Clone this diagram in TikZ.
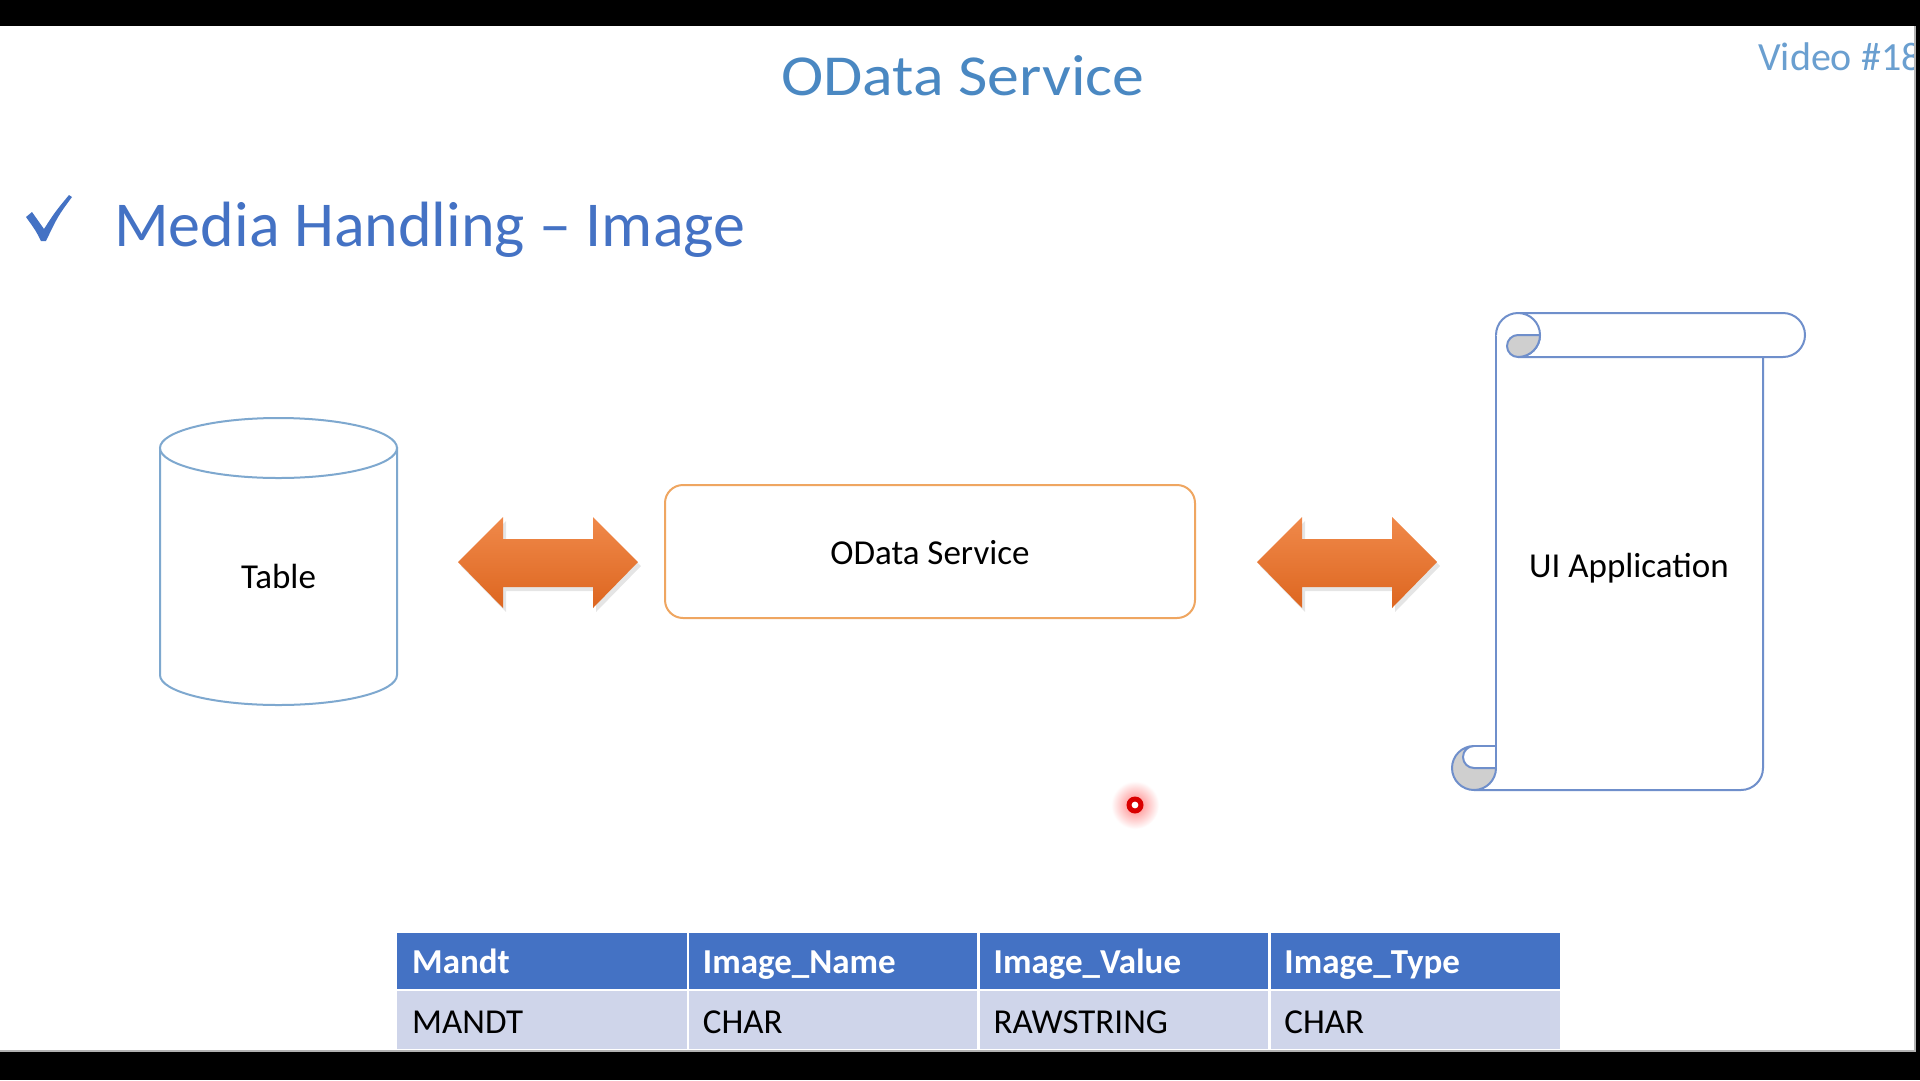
\documentclass[tikz,border=0pt]{standalone}
\usepackage{fontspec}
\setmainfont{Carlito}
\definecolor{hdr}{HTML}{4472C4}
\definecolor{rowc}{HTML}{CFD5EA}
\definecolor{cylblue}{HTML}{7EA8CF}
\definecolor{scrollblue}{HTML}{6F8FCB}
\definecolor{boxorange}{HTML}{EFA661}
\definecolor{arrtop}{HTML}{F0894A}
\definecolor{arrbot}{HTML}{DD6620}
\definecolor{titleblue}{HTML}{4A88C2}
\definecolor{videoblue}{HTML}{6A9FD0}
\definecolor{curlgray}{HTML}{CFCFCF}
\begin{document}
\begin{tikzpicture}[x=1pt,y=-1pt,
  lbl/.style={font=\fontsize{35}{40}\selectfont, text=black, inner sep=0pt},
  hdrtxt/.style={font=\fontsize{35}{40}\selectfont\bfseries, text=white, inner sep=0pt, anchor=base west},
  rowtxt/.style={font=\fontsize{35}{40}\selectfont, text=black, inner sep=0pt, anchor=base west},
  cyl/.style={draw=cylblue, line width=2pt, fill=white},
  scrl/.style={draw=scrollblue, line width=2pt, line join=round},
  odbox/.style={draw=boxorange, line width=2pt, rounded corners=18pt, fill=white, minimum width=530pt, minimum height=133pt, inner sep=0pt},
  blockarrow/.style={top color=arrtop, bottom color=arrbot},
]
\useasboundingbox (0,0) rectangle (1920,1080);
\fill[white] (0,0) rectangle (1920,1080);

% title and video label
\node[anchor=base, inner sep=0pt, text=titleblue, font=\fontsize{58}{64}\selectfont] (title) at (963,95) {\scalebox{1.1}[1]{OData Service}};
\node[anchor=base west, inner sep=0pt, text=videoblue, font=\fontsize{40}{46}\selectfont] (video) at (1758,70) {Video \#18};

% heading with check mark
\fill[hdr] (26,217) .. controls (29,214) .. (32,212) -- (44,229) .. controls (55,212) .. (69,195) -- (72,197) .. controls (58,216) .. (46,241) -- (41,241) .. controls (36,231) .. cycle;
\node[anchor=base west, inner sep=0pt, text=hdr, font=\fontsize{64}{70}\selectfont] (heading) at (114,246) {Media Handling – Image};

% cylinder
\path[cyl] (160,448) -- (160,675) arc[start angle=180, end angle=0, x radius=118.5, y radius=30] -- (397,448) -- cycle;
\draw[cyl] (278.5,448) ellipse [x radius=118.5, y radius=30];
\node[lbl, anchor=base] (tbl) at (278.5,588) {Table};

% OData service box
\node[odbox] (ods) at (930,551.5) {};
\node[lbl, anchor=base] (odstxt) at (930,564) {OData Service};

% double arrows
\foreach \dx/\nm in {0/arrL, 799/arrR}{
  \begin{scope}[xshift=\dx]
    \fill[black, opacity=0.10] (461,566) -- (506,521) -- (506,543) -- (596,543) -- (596,521) -- (641,566) -- (596,612) -- (596,591) -- (506,591) -- (506,612) -- cycle;
    \shade[blockarrow] (458,562) -- (503,517) -- (503,539) -- (593,539) -- (593,517) -- (638,562) -- (593,608) -- (593,587) -- (503,587) -- (503,608) -- cycle;
    \coordinate (\nm) at (548,562);
  \end{scope}
}

% scroll (UI application)
\fill[white] (1496,335) -- (1496,790) -- (1763,790) -- (1763,335) -- cycle;
\draw[scrl] (1496,335) -- (1496,746);
\draw[scrl] (1474,790) -- (1741,790) arc[start angle=90, end angle=0, radius=22] -- (1763,357);
\draw[scrl, fill=white] (1518,313) -- (1783,313) arc[start angle=270, end angle=450, radius=22] -- (1518,357);
\draw[scrl, fill=white] (1496,335) arc[start angle=180, end angle=450, radius=22];
\draw[scrl, fill=curlgray] (1518,335) -- (1540,335) arc[start angle=0, end angle=90, radius=22] arc[start angle=90, end angle=270, radius=11] -- cycle;
\fill[white] (1474,746) -- (1496,746) -- (1496,768) -- (1474,768) -- cycle;
\draw[scrl, fill=curlgray] (1474,746) arc[start angle=270, end angle=0, radius=22] -- (1474,768) arc[start angle=90, end angle=270, radius=11] -- cycle;
\draw[scrl] (1474,746) -- (1496,746) -- (1496,768);
\node[lbl, anchor=base] (ui) at (1629,577) {UI Application};

% laser pointer dot
\shade[inner color=red!50, outer color=white] (1135,805) circle (24);
\fill[red!85!black] (1135,805) circle (8.5);
\fill[white] (1135,805) circle (3.4);

% data table
\foreach \i/\h/\v in {0/Mandt/MANDT, 1/Image\_Name/CHAR, 2/Image\_Value/RAWSTRING, 3/Image\_Type/CHAR}{
  \pgfmathsetmacro{\xa}{397+\i*290.75}
  \pgfmathsetmacro{\xb}{397+(\i+1)*290.75}
  \fill[hdr] (\xa,933) rectangle (\xb,989);
  \fill[rowc] (\xa,991) rectangle (\xb,1049);
  \node[hdrtxt] (h\i) at (\xa+15,973) {\h};
  \node[rowtxt] (v\i) at (\xa+15,1033) {\v};
}
\foreach \i in {1,2,3}{
  \draw[white, line width=2.5pt] (397+\i*290.75,933) -- (397+\i*290.75,1049);
}
\draw[white, line width=2.5pt] (397,990) -- (1560,990);

% video frame bars
\fill[black] (0,0) rectangle (1920,26);
\fill[black] (0,1052) rectangle (1920,1080);
\fill[black] (1915,26) rectangle (1920,1052);
\draw[gray!60, line width=1.5pt] (0,1051) -- (1915,1051) -- (1915,26);
\end{tikzpicture}
\end{document}
